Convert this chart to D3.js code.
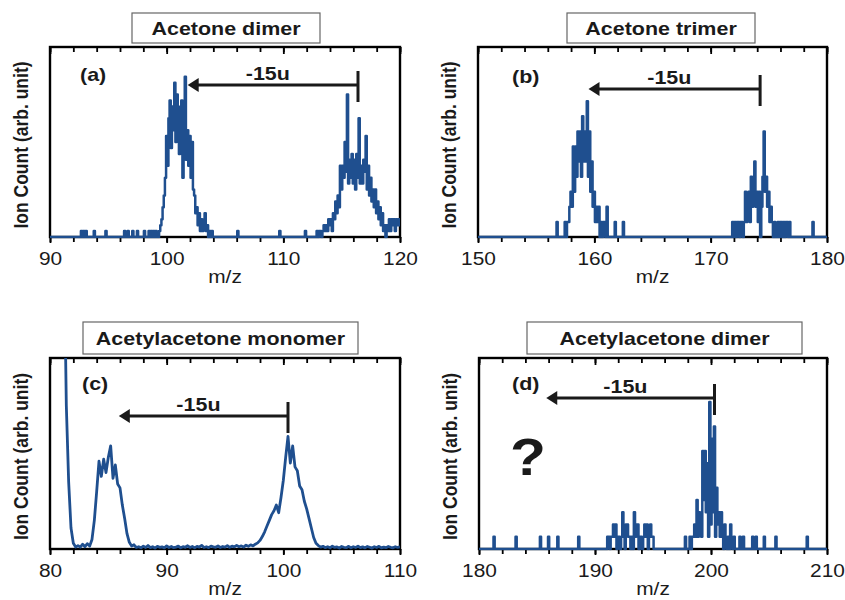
<!DOCTYPE html>
<html>
<head>
<meta charset="utf-8">
<script src="https://cdn.jsdelivr.net/npm/d3@7"></script>
<style>
  body { margin: 0; background: #fff; }
  svg { display: block; font-family: Arial, "Liberation Sans", sans-serif; }
</style>
</head>
<body>
<svg id="chart"></svg>
<script>
// panel texts and axis ranges
const titles = ['Acetone dimer', 'Acetone trimer', 'Acetylacetone monomer', 'Acetylacetone dimer']
const panelTags = ['(a)', '(b)', '(c)', '(d)']
const xDomains = [[90, 120], [150, 180], [80, 110], [180, 210]]
const yMax = [32, 12.6, 100, 15.6]
const shiftLabel = '-15u'
const arrowFrom = [116.4, 174.25, 100.4, 200.3]
const arrowTo = [101.8, 159.5, 85.9, 185.8]

// (a) acetone dimer, counts every 0.1 m/z
const aPeak1Start = 99.4
const aPeak1 = [1,2,3,5,7,10,17,12,20,23, 15,22,18,26,16,24,21,14,22,23, 10,20,27,13,18,12,17,10,16,8, 7,4,5,2,4,1,3,1,2,4, 1,2,0,1,0,1,0]
const aPeak2Start = 112.8
const aPeak2 = [0,1,0,1,1,0,1,2,1,2, 1,3,2,3,1,4,3,6,4,7, 5,12,8,12,10,16,11,24,9,13, 10,14,9,13,8,14,10,20,9,12, 9,13,11,17,8,12,7,10,6,8, 5,8,4,6,3,5,2,4,1,2, 0,2,1,3,1,3,2,3,1,3, 2,3,2]
const aSpikes = [92.7, 92.9, 93.1, 93.8, 94.8, 96.4, 96.7, 97.1, 97.5, 98.1, 98.5, 98.7, 98.9, 99.1, 106.1, 109.7, 111.9]

// (b) acetone trimer
const bPeak1Start = 157.4
const bPeak1 = [0,1,0,1,1,2,3,2,6,3, 6,4,7,5,7,4,8,5,7,5, 9,4,7,3,5,2,3,1,2,1, 2,0,1,0,1,1,0,2,0]
const bPeak2Start = 171.8
const bPeak2 = [0,1,0,1,0,1,1,0,1,1, 0,1,3,1,2,3,1,4,2,4, 5,2,3,1,3,0,2,4,7,3, 4,2,3,1,2,1,0,1,0,0, 1,0,1,1,0,1,0,1,1,0, 1,0]
const bSpikes = [156.8, 161.8, 162.5, 178.8]

// (c) acetylacetone monomer, relative intensity every 0.2 m/z
const cRiseStart = 81.0
const cRise = [300,160,75,35,11,3,1,1.8,1,2.5,1.2,2.8]
const cPeak1Start = 83.4
const cPeak1 = [1.5,5,15,30,46,38,47,40,48,54,37,44,34,32,23,16,8,3.5,1.5,2.2,0.8]
const cMidStart = 87.6
const cMid = [1.2,0.6,1.5,0.8,1.8,0.7,1.2,0.5,1.4,0.9, 1.1,0.6,1.6,0.8,1.3,0.7,1.0,1.5,0.6,1.2, 0.9,1.7,0.8,1.3,0.6,1.4,1.0,1.9,0.8,1.2, 0.7,1.5,1.1,0.9,1.6,0.8,1.3,1.0,1.8,0.9, 1.5,1.1,1.9,1.2,1.6,1.0,2.0,1.4,2.2,1.6]
const cPeak2Start = 97.6
const cPeak2 = [2.5,3.2,4.5,6.5,9,12,15,18,20,23, 19,27,36,48,59,45,54,43,41,33, 31,25,21,16,11,6,3,1.8,1.0]
const cTailStart = 103.4
const cTail = [1.4,0.7,1.2,0.6,1.5,0.8,1.1,0.5,1.3,0.9, 0.7,1.4,0.6,1.2,0.8,1.5,0.7,1.1,0.6,1.3, 0.9,0.5,1.2,0.8,1.4,0.6,1.0,0.7,1.3,0.9, 0.6,1.2,0.8,1.1]

// (d) acetylacetone dimer
const dPeak1Start = 191.0
const dPeak1 = [0,1,1,0,1,1,2,1,2,0, 1,1,0,1,3,1,0,2,2,1, 1,0,1,0,3,1,2,2,0,1, 1,0,1,2,1,2,0,1,2,1, 1,0]
const dPeak2Start = 197.7
const dPeak2 = [0,1,0,0,0,1,0,1,1,2, 1,4,1,3,2,1,8,4,8,3, 7,1,12,2,9,3,10,1,5,2, 3,1,3,1,0,2,1,0,1,0, 2,1,0,1,0]
const dSpikes = [181.3, 183.2, 185.3, 186.0, 186.8, 188.6, 202.5, 202.8, 203.6, 203.9, 204.6, 205.6, 208.3]

// counts on a 0.1 grid, zero where nothing was recorded
function countSpectrum(domain, segments, spikes) {
  const n = Math.round((domain[1] - domain[0]) * 10)
  const ys = new Array(n + 1).fill(0)
  spikes.forEach(m => { ys[Math.round((m - domain[0]) * 10)] = 1 })
  segments.forEach(([start, vals]) => {
    const o = Math.round((start - domain[0]) * 10)
    vals.forEach((v, i) => { ys[o + i] = v })
  })
  return ys.map((v, i) => [domain[0] + i / 10, v])
}
function sampledSpectrum(segments, step) {
  const pts = []
  segments.forEach(([start, vals]) => vals.forEach((v, i) => pts.push([start + i * step, v])))
  return pts
}

const spectra = [
  countSpectrum(xDomains[0], [[aPeak1Start, aPeak1], [aPeak2Start, aPeak2]], aSpikes),
  countSpectrum(xDomains[1], [[bPeak1Start, bPeak1], [bPeak2Start, bPeak2]], bSpikes),
  sampledSpectrum([[cRiseStart, cRise], [cPeak1Start, cPeak1], [cMidStart, cMid], [cPeak2Start, cPeak2], [cTailStart, cTail]], 0.2),
  countSpectrum(xDomains[3], [[dPeak1Start, dPeak1], [dPeak2Start, dPeak2]], dSpikes)
]
const curves = [d3.curveStep, d3.curveStep, d3.curveLinear, d3.curveStep]

const width = 845
const height = 600
const sx = 1.13   // the source figure is a bit wider than tall
const blue = '#1f4f8f'

// plot frames and title boxes
const frames = [
  {l: 50, r: 400, t: 47, b: 237},
  {l: 478, r: 827, t: 47, b: 237},
  {l: 50, r: 400, t: 358, b: 549},
  {l: 479, r: 827, t: 358, b: 549}
]
const boxes = [
  {x: 132, y: 13, w: 188, h: 30},
  {x: 567, y: 13, w: 188, h: 30},
  {x: 83, y: 322, w: 275, h: 32},
  {x: 527, y: 322, w: 275, h: 32}
]
const tagPos = [[30, 34], [34, 36], [32, 32], [33, 32]]
const arrowDy = [38, 42, 58, 40]

const svg = d3.select('#chart').attr('width', width).attr('height', height)
svg.append('rect').attr('width', width).attr('height', height).attr('fill', '#fff')

function stretchedText(parent, x, y, txt, opts) {
  const g = parent.append('g').attr('transform', `translate(${x},${y}) scale(${sx},1)` + (opts.rotate ? ` rotate(${opts.rotate})` : ''))
  return g.append('text')
    .attr('text-anchor', opts.anchor || 'middle')
    .attr('font-size', opts.size)
    .attr('font-weight', opts.bold ? 'bold' : 'normal')
    .attr('fill', opts.fill || '#1a1a1a')
    .text(txt)
}

frames.forEach((f, k) => {
  const x = d3.scaleLinear().domain(xDomains[k]).range([f.l, f.r])
  const y = d3.scaleLinear().domain([0, yMax[k]]).range([f.b, f.t])
  const g = svg.append('g')

  // frame
  g.append('rect').attr('x', f.l).attr('y', f.t).attr('width', f.r - f.l).attr('height', f.b - f.t)
    .attr('fill', 'none').attr('stroke', '#000').attr('stroke-width', 2.4)

  // ticks
  const minorVals = d3.range(xDomains[k][0], xDomains[k][1] + 1e-9, 2)
  const majorVals = d3.range(xDomains[k][0], xDomains[k][1] + 1e-9, 10)
  const axes = [
    [d3.axisBottom(x).tickValues(minorVals).tickSize(5).tickFormat(''), f.b],
    [d3.axisTop(x).tickValues(minorVals).tickSize(-5).tickFormat(''), f.t],
    [d3.axisTop(x).tickValues(majorVals).tickSize(-7).tickFormat(''), f.t],
    [d3.axisBottom(x).tickValues(majorVals).tickSize(6).tickPadding(9).tickFormat(d3.format('d')), f.b]
  ]
  axes.forEach(([ax, yy]) => {
    const a = g.append('g').attr('transform', `translate(0,${yy})`).call(ax)
    a.select('.domain').remove()
    a.selectAll('line').attr('stroke', '#000').attr('stroke-width', 1.8)
    a.selectAll('text').attr('font-size', 18.5).attr('fill', '#1a1a1a')
      .attr('font-family', 'Arial, "Liberation Sans", sans-serif')
      .attr('transform', `scale(${sx},1)`)
  })

  // spectrum
  const clipId = 'clip' + k
  svg.append('clipPath').attr('id', clipId).append('rect')
    .attr('x', f.l).attr('y', f.t).attr('width', f.r - f.l).attr('height', f.b - f.t + 1.5)
  const line = d3.line().x(d => x(d[0])).y(d => y(d[1])).curve(curves[k])
  g.append('path').datum(spectra[k]).attr('clip-path', `url(#${clipId})`)
    .attr('d', line).attr('fill', 'none').attr('stroke', blue)
    .attr('stroke-width', k === 2 ? 2.8 : 2.5).attr('stroke-linejoin', 'round')

  // titles
  const b = boxes[k]
  g.append('rect').attr('x', b.x).attr('y', b.y).attr('width', b.w).attr('height', b.h)
    .attr('fill', '#fff').attr('stroke', '#666').attr('stroke-width', 1.2)
  stretchedText(g, b.x + b.w / 2, b.y + b.h / 2 + 7, titles[k], {size: 19, bold: true})

  // axis labels
  stretchedText(g, (f.l + f.r) / 2, f.b + 46, 'm/z', {size: 18.5})
  stretchedText(g, f.l - 22, (f.t + f.b) / 2 + 3, 'Ion Count (arb. unit)', {size: 17.5, bold: true, rotate: -90})

  // panel tag
  stretchedText(g, f.l + tagPos[k][0], f.t + tagPos[k][1], panelTags[k], {size: 19, bold: true, anchor: 'start'})

  // -15u arrow
  const ay = f.t + arrowDy[k]
  const x0 = x(arrowFrom[k]), x1 = x(arrowTo[k])
  g.append('line').attr('x1', x0).attr('x2', x1 + 8).attr('y1', ay).attr('y2', ay)
    .attr('stroke', '#1a1a1a').attr('stroke-width', 3)
  g.append('line').attr('x1', x0).attr('x2', x0).attr('y1', ay - 14).attr('y2', ay + 17)
    .attr('stroke', '#1a1a1a').attr('stroke-width', 3)
  g.append('path').attr('d', `M${x1},${ay}L${x1 + 11},${ay - 7}L${x1 + 11},${ay + 7}Z`).attr('fill', '#1a1a1a')
  stretchedText(g, (x0 + x1) / 2 - 5, ay - 5.5, shiftLabel, {size: 19, bold: true})

  if (k === 3) {
    stretchedText(g, f.l + 49, f.t + 117, '?', {size: 52, bold: true})
  }
})
</script>
</body>
</html>
